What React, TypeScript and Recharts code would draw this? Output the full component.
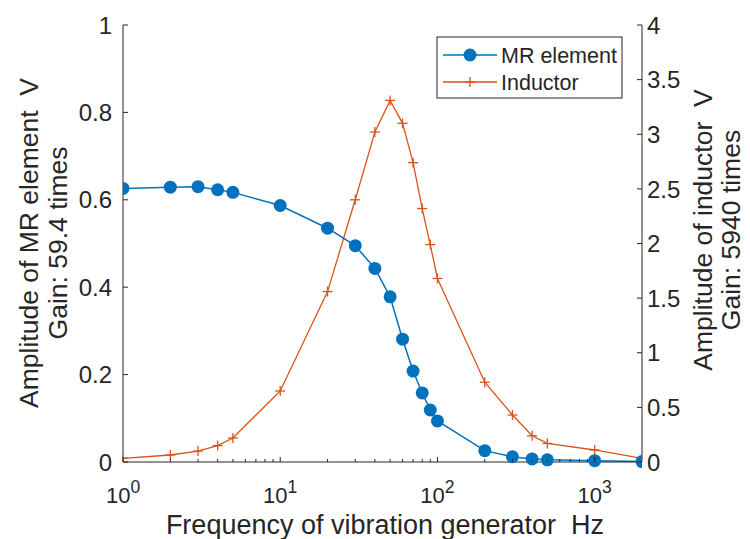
import { LineChart, Line, XAxis, YAxis } from "recharts";

const freq = [1, 2, 3, 4, 5, 10, 20, 30, 40, 50, 60, 70, 80, 90, 100, 200, 300, 400, 500, 1000, 2000];
const mrElement = [
  0.626, 0.629, 0.63, 0.623, 0.617, 0.587, 0.535, 0.495, 0.443, 0.378, 0.281, 0.208, 0.158, 0.119,
  0.094, 0.026, 0.012, 0.007, 0.005, 0.003, 0.001,
];
const inductor = [
  0.034, 0.064, 0.1, 0.15, 0.22, 0.65, 1.56, 2.4, 3.02, 3.31, 3.1, 2.74, 2.32, 1.99, 1.68, 0.73,
  0.43, 0.24, 0.17, 0.11, 0.034,
];

const xTicks = [
  1, 2, 3, 4, 5, 6, 7, 8, 9, 10, 20, 30, 40, 50, 60, 70, 80, 90, 100, 200, 300, 400, 500, 600,
  700, 800, 900, 1000,
];
const leftTicks = [0, 0.2, 0.4, 0.6, 0.8, 1];
const rightTicks = [0, 0.5, 1, 1.5, 2, 2.5, 3, 3.5, 4];

const data = freq.map((f, i) => ({ f, mr: mrElement[i], ind: inductor[i] }));

const AXIS = "#262626";
const BLUE = "#0072BD";
const ORANGE = "#D95319";
const FONT = "'Liberation Sans', Arial, sans-serif";

function isMajor(v: number) {
  const e = Math.round(Math.log10(v));
  return Math.abs(Math.pow(10, e) - v) < 1e-6;
}

function BottomTick(props: any) {
  const { x, y, payload } = props;
  const v = payload.value;
  const major = isMajor(v);
  return (
    <g>
      <line x1={x} x2={x} y1={y} y2={y - (major ? 5 : 3)} stroke={AXIS} />
      {major && (
        <text x={x} y={y + 41} textAnchor="middle" fill={AXIS} fontSize={22} fontFamily={FONT}>
          10
          <tspan dy={-10} fontSize={17.5}>
            {Math.round(Math.log10(v))}
          </tspan>
        </text>
      )}
    </g>
  );
}

function TopTick(props: any) {
  const { x, y, payload } = props;
  const major = isMajor(payload.value);
  return <line x1={x} x2={x} y1={y} y2={y + (major ? 5 : 3)} stroke={AXIS} />;
}

function LeftTick(props: any) {
  const { x, y, payload } = props;
  return (
    <g>
      <line x1={x} x2={x + 5} y1={y} y2={y} stroke={AXIS} />
      <text x={x - 11} y={y} dy="0.36em" textAnchor="end" fill={AXIS} fontSize={24} fontFamily={FONT}>
        {payload.value}
      </text>
    </g>
  );
}

function RightTick(props: any) {
  const { x, y, payload } = props;
  return (
    <g>
      <line x1={x} x2={x - 5} y1={y} y2={y} stroke={AXIS} />
      <text x={x + 5} y={y} dy="0.36em" textAnchor="start" fill={AXIS} fontSize={24} fontFamily={FONT}>
        {payload.value}
      </text>
    </g>
  );
}

function PlusDot(props: any) {
  const { cx, cy } = props;
  if (cx == null || cy == null) return null;
  return (
    <g>
      <line x1={cx - 5} x2={cx + 5} y1={cy} y2={cy} stroke={ORANGE} strokeWidth={1.3} />
      <line x1={cx} x2={cx} y1={cy - 5} y2={cy + 5} stroke={ORANGE} strokeWidth={1.3} />
    </g>
  );
}

function Legend() {
  return (
    <svg
      width={188}
      height={63}
      style={{ position: "absolute", left: 436, top: 36, overflow: "visible" }}
    >
      <rect x={1} y={1} width={185} height={61} fill="#fff" stroke={AXIS} strokeWidth={1} />
      <line x1={7} x2={61} y1={19} y2={19} stroke={BLUE} strokeWidth={1.5} />
      <circle cx={34} cy={19} r={6.5} fill={BLUE} />
      <text x={65} y={19} dy="0.36em" fontSize={21.5} fill={AXIS} fontFamily={FONT}>
        MR element
      </text>
      <line x1={7} x2={61} y1={46} y2={46} stroke={ORANGE} strokeWidth={1.3} />
      <PlusDot cx={34} cy={46} />
      <text x={65} y={46} dy="0.36em" fontSize={21.5} fill={AXIS} fontFamily={FONT}>
        Inductor
      </text>
    </svg>
  );
}

export default function App() {
  return (
    <div style={{ position: "absolute", left: 0, top: 0, width: 750, height: 539, background: "#fff" }}>
      <LineChart width={750} height={539} data={data} margin={{ top: 25, right: 0, bottom: 0, left: 0 }}>
        <XAxis
          dataKey="f"
          type="number"
          scale="log"
          domain={[1, 2000]}
          ticks={xTicks}
          interval={0}
          height={77}
          tickSize={0}
          tickMargin={0}
          tick={<BottomTick />}
          axisLine={{ stroke: AXIS }}
          allowDataOverflow
        />
        <XAxis
          xAxisId="top"
          orientation="top"
          dataKey="f"
          type="number"
          scale="log"
          domain={[1, 2000]}
          ticks={xTicks}
          interval={0}
          height={0}
          tickSize={0}
          tickMargin={0}
          tick={<TopTick />}
          axisLine={{ stroke: AXIS }}
          allowDataOverflow
        />
        <YAxis
          yAxisId="left"
          domain={[0, 1]}
          ticks={leftTicks}
          interval={0}
          width={123}
          tickSize={0}
          tickMargin={0}
          tick={<LeftTick />}
          axisLine={{ stroke: AXIS }}
        />
        <YAxis
          yAxisId="right"
          orientation="right"
          domain={[0, 4]}
          ticks={rightTicks}
          interval={0}
          width={108}
          tickSize={0}
          tickMargin={0}
          tick={<RightTick />}
          axisLine={{ stroke: AXIS }}
        />
        <Line
          yAxisId="right"
          dataKey="ind"
          type="linear"
          stroke={ORANGE}
          strokeWidth={1.3}
          dot={(p: any) => <PlusDot key={`p-${p.index}`} cx={p.cx} cy={p.cy} />}
          isAnimationActive={false}
        />
        <Line
          yAxisId="left"
          dataKey="mr"
          type="linear"
          stroke={BLUE}
          strokeWidth={1.5}
          dot={{ r: 6.5, fill: BLUE, stroke: BLUE, strokeWidth: 0 }}
          isAnimationActive={false}
        />
      </LineChart>
      <svg width={750} height={539} style={{ position: "absolute", left: 0, top: 0, pointerEvents: "none" }}>
        <text
          transform="translate(29,243) rotate(-90)"
          textAnchor="middle"
          dominantBaseline="central"
          fontSize={26.5}
          fill={AXIS}
          fontFamily={FONT}
        >
          {"Amplitude of MR element\u00a0 V"}
        </text>
        <text
          transform="translate(58,243) rotate(-90)"
          textAnchor="middle"
          dominantBaseline="central"
          fontSize={26.5}
          fill={AXIS}
          fontFamily={FONT}
        >
          Gain: 59.4 times
        </text>
        <text
          transform="translate(703,230) rotate(-90)"
          textAnchor="middle"
          dominantBaseline="central"
          fontSize={26.5}
          fill={AXIS}
          fontFamily={FONT}
        >
          {"Amplitude of inductor\u00a0 V"}
        </text>
        <text
          transform="translate(731,230) rotate(-90)"
          textAnchor="middle"
          dominantBaseline="central"
          fontSize={26.5}
          fill={AXIS}
          fontFamily={FONT}
        >
          Gain: 5940 times
        </text>
        <text x={385} y={534} textAnchor="middle" fontSize={27} fill={AXIS} fontFamily={FONT}>
          {"Frequency of vibration generator\u00a0 Hz"}
        </text>
      </svg>
      <Legend />
    </div>
  );
}
